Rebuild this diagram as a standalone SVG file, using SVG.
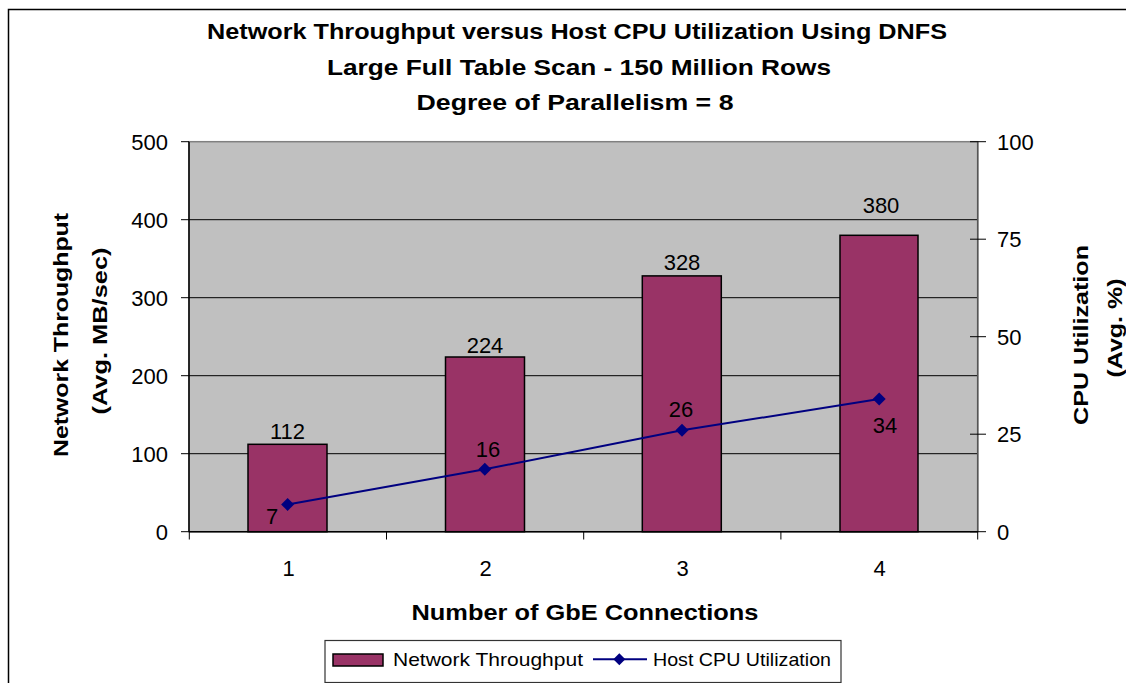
<svg xmlns="http://www.w3.org/2000/svg" width="1126" height="683" viewBox="0 0 1126 683">
<style>
text{font-family:"Liberation Sans",Arial,sans-serif;fill:#000}
.t{font-weight:bold;font-size:22px;text-anchor:middle}
.ax{font-weight:bold;font-size:20px;text-anchor:middle}
.l{font-size:22px;text-anchor:end}
.r{font-size:22px;text-anchor:start}
.c{font-size:22px;text-anchor:middle}
.bar{fill:#993366;stroke:#000;stroke-width:1.5}
.grid{stroke:#000;stroke-width:1}
.tick{stroke:#000;stroke-width:1}
.lg{font-size:19px}
</style>
<defs>
<marker id="dia" markerWidth="14" markerHeight="14" refX="7" refY="7" markerUnits="userSpaceOnUse">
<path d="M7,0.5 L13.5,7 L7,13.5 L0.5,7 Z" fill="#000080"/>
</marker>
</defs>
<rect x="8.5" y="9.5" width="1130" height="700" fill="#fff" stroke="#000" stroke-width="1.5"/>
<g id="title">
<text class="t" x="577" y="38.5" textLength="740" lengthAdjust="spacingAndGlyphs">Network Throughput versus Host CPU Utilization Using DNFS</text>
<text class="t" x="579" y="75" textLength="504" lengthAdjust="spacingAndGlyphs">Large Full Table Scan - 150 Million Rows</text>
<text class="t" x="575" y="109.5" textLength="317" lengthAdjust="spacingAndGlyphs">Degree of Parallelism = 8</text>
</g>
<g id="plot">
<rect x="189" y="141.7" width="788.7" height="390" fill="#C0C0C0" stroke="#808080" stroke-width="1.5"/>
<line class="grid" x1="189" y1="219.7" x2="977.7" y2="219.7"/>
<line class="grid" x1="189" y1="297.7" x2="977.7" y2="297.7" stroke="#444"/>
<line class="grid" x1="189" y1="375.7" x2="977.7" y2="375.7" stroke="#444"/>
<line class="grid" x1="189" y1="453.7" x2="977.7" y2="453.7"/>
<line x1="189" y1="141.7" x2="189" y2="531.7" stroke="#000" stroke-width="1.5"/>
<line x1="977.7" y1="141.7" x2="977.7" y2="531.7" stroke="#555" stroke-width="1.5"/>
<line x1="189" y1="531.7" x2="977.7" y2="531.7" stroke="#000" stroke-width="1.5"/>
</g>
<g id="left-axis">
<line class="tick" x1="181" y1="141.7" x2="189" y2="141.7"/>
<line class="tick" x1="181" y1="219.7" x2="189" y2="219.7"/>
<line class="tick" x1="181" y1="297.7" x2="189" y2="297.7"/>
<line class="tick" x1="181" y1="375.7" x2="189" y2="375.7"/>
<line class="tick" x1="181" y1="453.7" x2="189" y2="453.7"/>
<line class="tick" x1="181" y1="531.7" x2="189" y2="531.7"/>
<text class="l" x="168" y="149.5">500</text>
<text class="l" x="168" y="227.5">400</text>
<text class="l" x="168" y="305.5">300</text>
<text class="l" x="168" y="383.5">200</text>
<text class="l" x="168" y="461.5">100</text>
<text class="l" x="168" y="539.5">0</text>
<text class="ax" transform="translate(68,335) rotate(-90)" textLength="244" lengthAdjust="spacingAndGlyphs">Network Throughput</text>
<text class="ax" transform="translate(107,331) rotate(-90)" textLength="167" lengthAdjust="spacingAndGlyphs">(Avg. MB/sec)</text>
</g>
<g id="right-axis">
<line class="tick" x1="970" y1="141.7" x2="986" y2="141.7"/>
<line class="tick" x1="970" y1="239.2" x2="986" y2="239.2"/>
<line class="tick" x1="970" y1="336.7" x2="986" y2="336.7"/>
<line class="tick" x1="970" y1="434.2" x2="986" y2="434.2"/>
<line class="tick" x1="970" y1="531.7" x2="986" y2="531.7"/>
<text class="r" x="997" y="149.5">100</text>
<text class="r" x="997" y="247">75</text>
<text class="r" x="997" y="344.5">50</text>
<text class="r" x="997" y="442">25</text>
<text class="r" x="997" y="539.5">0</text>
<text class="ax" transform="translate(1088,335) rotate(-90)" textLength="180" lengthAdjust="spacingAndGlyphs">CPU Utilization</text>
<text class="ax" transform="translate(1122,328) rotate(-90)" textLength="99" lengthAdjust="spacingAndGlyphs">(Avg. %)</text>
</g>
<g id="x-axis">
<line class="tick" x1="189.3" y1="531.7" x2="189.3" y2="539.5"/>
<line class="tick" x1="386.5" y1="531.7" x2="386.5" y2="539.5"/>
<line class="tick" x1="583.7" y1="531.7" x2="583.7" y2="539.5"/>
<line class="tick" x1="780.9" y1="531.7" x2="780.9" y2="539.5"/>
<line class="tick" x1="977.7" y1="531.7" x2="977.7" y2="539.5"/>
<text class="c" x="288.5" y="575.5">1</text>
<text class="c" x="485.5" y="575.5">2</text>
<text class="c" x="682.5" y="575.5">3</text>
<text class="c" x="879.5" y="575.5">4</text>
<text class="t" x="585" y="620" font-size="21" textLength="347" lengthAdjust="spacingAndGlyphs">Number of GbE Connections</text>
</g>
<g id="bars">
<rect class="bar" x="248" y="444.3" width="79" height="87.4"/>
<rect class="bar" x="445.5" y="357" width="79" height="174.7"/>
<rect class="bar" x="642.3" y="275.9" width="79" height="255.8"/>
<rect class="bar" x="840" y="235.3" width="78" height="296.4"/>
<text class="c" x="287.5" y="438.5">112</text>
<text class="c" x="485" y="352.5">224</text>
<text class="c" x="682" y="270">328</text>
<text class="c" x="881" y="212.5">380</text>
</g>
<g id="connectors">
<polyline points="287.6,504.4 484.8,469.3 682,430.3 879.2,399.1" fill="none" stroke="#000080" stroke-width="2" marker-start="url(#dia)" marker-mid="url(#dia)" marker-end="url(#dia)"/>
<text class="c" x="272" y="523.5">7</text>
<text class="c" x="488" y="456.5">16</text>
<text class="c" x="681" y="416.5">26</text>
<text class="c" x="885" y="432.5">34</text>
</g>
<g id="legend">
<rect x="325" y="640.5" width="516" height="42" fill="#fff" stroke="#333" stroke-width="1.2"/>
<rect class="bar" x="333" y="654" width="50" height="12"/>
<text class="lg" x="393" y="666" textLength="190" lengthAdjust="spacingAndGlyphs">Network Throughput</text>
<line x1="593" y1="659.3" x2="647" y2="659.3" stroke="#000080" stroke-width="2"/>
<path d="M619.3,653.3 L625.3,659.3 L619.3,665.3 L613.3,659.3 Z" fill="#000080"/>
<text class="lg" x="653" y="666" textLength="178" lengthAdjust="spacingAndGlyphs">Host CPU Utilization</text>
</g>
</svg>
